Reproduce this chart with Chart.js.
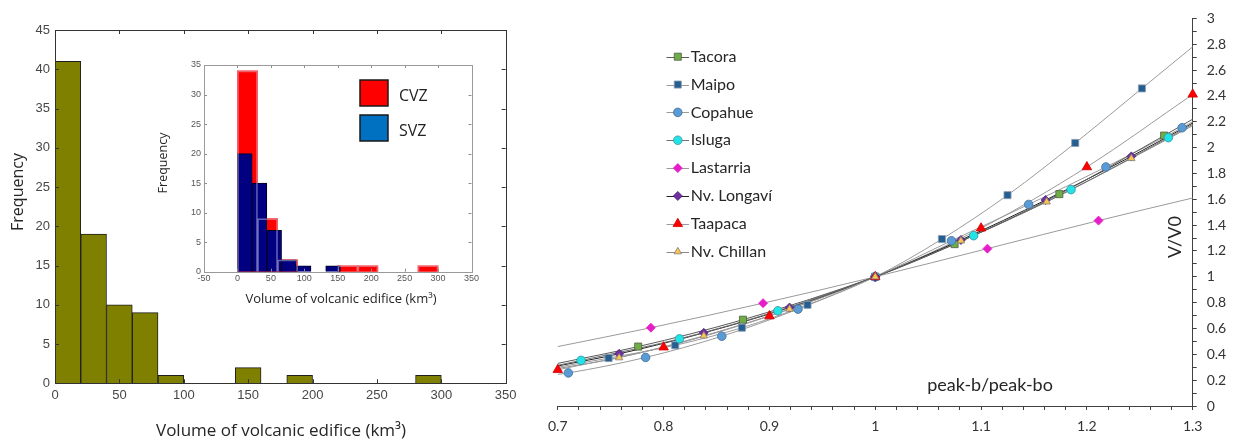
<!DOCTYPE html>
<html>
<head>
<meta charset="utf-8">
<script src="https://cdn.jsdelivr.net/npm/chart.js"></script>
<style>
  body { margin: 0; background: #fff; }
  #wrap { position: relative; width: 1234px; height: 445px; overflow: hidden; background: #fff; }
  canvas { position: absolute; }
</style>
</head>
<body>
<div id="wrap">
  <canvas id="histAll" width="530" height="445" style="left:0;top:0"></canvas>
  <canvas id="histZones" width="340" height="262" style="left:150px;top:50px"></canvas>
  <canvas id="ratioChart" width="694" height="445" style="left:540px;top:0"></canvas>
</div>
<script>
// ---- left histogram: all volcanoes, 20 km3 bins (bin centres) ----
const volBins = [10, 30, 50, 70, 90, 150, 190, 290];
const volCounts = [41, 19, 10, 9, 1, 2, 1, 1];

// ---- inset: CVZ (30 km3 bins) and SVZ (22 km3 bins) ----
const zoneNames = ['CVZ', 'SVZ'];
const cvzBins = [15, 45, 75, 165, 195, 285];
const cvzCounts = [34, 9, 2, 1, 1, 1];
const svzBins = [11, 33, 55, 77, 99, 143];
const svzCounts = [20, 15, 7, 2, 1, 1];

// ---- right chart: V/V0 against peak-b/peak-bo ----
const volcanoes = ['Tacora', 'Maipo', 'Copahue', 'Isluga', 'Lastarria', 'Nv. Longaví', 'Taapaca', 'Nv. Chillan'];
const tacoraX = [0.776, 0.875, 1, 1.075, 1.174, 1.273];
const tacoraY = [0.46, 0.668, 1, 1.253, 1.64, 2.093];
const maipoX = [0.748, 0.811, 0.874, 0.936, 1, 1.063, 1.125, 1.189, 1.252];
const maipoY = [0.371, 0.47, 0.606, 0.783, 1, 1.292, 1.632, 2.036, 2.458];
const copahueX = [0.71, 0.783, 0.855, 0.927, 1, 1.072, 1.145, 1.218, 1.29];
const copahueY = [0.256, 0.376, 0.54, 0.75, 1, 1.279, 1.56, 1.85, 2.154];
const islugaX = [0.722, 0.815, 0.908, 1, 1.093, 1.185, 1.277];
const islugaY = [0.353, 0.52, 0.737, 1, 1.318, 1.675, 2.077];
const lastarriaX = [0.788, 0.894, 1, 1.106, 1.211];
const lastarriaY = [0.606, 0.796, 1, 1.218, 1.435];
const longaviX = [0.758, 0.838, 0.919, 1, 1.081, 1.161, 1.242];
const longaviY = [0.404, 0.566, 0.762, 1, 1.285, 1.594, 1.932];
const taapacaX = [0.7, 0.8, 0.9, 1, 1.1, 1.2, 1.3];
const taapacaY = [0.28, 0.455, 0.696, 1, 1.376, 1.85, 2.412];
const chillanX = [0.758, 0.838, 0.919, 1, 1.081, 1.162, 1.242];
const chillanY = [0.374, 0.543, 0.75, 1, 1.279, 1.58, 1.916];
// where each trend line meets the left (0.7) and right (1.3) edges
const trendAtLeft = [0.33, 0.30, 0.245, 0.315, 0.46, 0.31, 0.28, 0.29];
const trendAtRight = [2.22, 2.78, 2.2, 2.18, 1.61, 2.19, 2.41, 2.17];

const seriesX = [tacoraX, maipoX, copahueX, islugaX, lastarriaX, longaviX, taapacaX, chillanX];
const seriesY = [tacoraY, maipoY, copahueY, islugaY, lastarriaY, longaviY, taapacaY, chillanY];

// marker styles
const pointStyles = ['rect', 'rect', 'circle', 'circle', 'rectRot', 'rectRot', 'triangle', 'triangle'];
const pointRadii = [5, 5, 4.3, 4.3, 4.5, 4.5, 5.5, 4.3];
const pointFills = ['#70ad47', '#255e91', '#5b9bd5', '#22e4e4', '#e61ec8', '#7030a0', '#ff0000', '#ffc54a'];
const pointEdges = ['#4d5d40', '#8c9cb0', '#41719c', '#3b8ea5', '#e61ec8', '#4d2070', '#d00000', '#7f7f7f'];
const lineColors = ['#5a5a5a', '#9a9a9a', '#9a9a9a', '#707070', '#9a9a9a', '#222222', '#9a9a9a', '#8a8a8a'];

const sansUI = "'Open Sans', sans-serif";
const calib = "Lato, sans-serif";

// box with inward ticks on all four sides (matlab style)
function insideTicks(xId, yId, len, tickColor, boxColor) {
  return {
    id: 'insideTicks',
    afterDatasetsDraw(chart) {
      const ctx = chart.ctx, a = chart.chartArea;
      const xs = chart.scales[xId], ys = chart.scales[yId];
      ctx.save();
      ctx.lineWidth = 1;
      ctx.strokeStyle = tickColor;
      ctx.beginPath();
      xs.ticks.forEach(t => {
        const p = Math.round(xs.getPixelForValue(t.value)) + 0.5;
        ctx.moveTo(p, a.bottom); ctx.lineTo(p, a.bottom - len);
        ctx.moveTo(p, a.top); ctx.lineTo(p, a.top + len);
      });
      ys.ticks.forEach(t => {
        const p = Math.round(ys.getPixelForValue(t.value)) + 0.5;
        ctx.moveTo(a.left, p); ctx.lineTo(a.left + len, p);
        ctx.moveTo(a.right, p); ctx.lineTo(a.right - len, p);
      });
      ctx.stroke();
      ctx.strokeStyle = boxColor;
      ctx.strokeRect(Math.round(a.left) + 0.5, Math.round(a.top) + 0.5,
        Math.round(a.right) - Math.round(a.left), Math.round(a.bottom) - Math.round(a.top));
      ctx.restore();
    }
  };
}

// free text (axis titles placed where the original has them)
function textLayer(items) {
  return {
    id: 'textLayer',
    afterDraw(chart) {
      const ctx = chart.ctx;
      items.forEach(t => {
        ctx.save();
        ctx.translate(t.x, t.y);
        ctx.rotate(t.rotate || 0);
        ctx.font = t.font;
        ctx.fillStyle = t.color || '#262626';
        ctx.textAlign = t.align || 'center';
        ctx.textBaseline = 'middle';
        ctx.fillText(t.text, 0, 0);
        ctx.restore();
      });
    }
  };
}

// Left: all volcanoes
new Chart(document.getElementById('histAll'), {
  type: 'bar',
  data: {
    datasets: [{
      data: volBins.map((b, i) => ({ x: b, y: volCounts[i] })),
      backgroundColor: '#808000',
      borderColor: '#1e1e1e',
      borderWidth: 1,
      barPercentage: 1,
      categoryPercentage: 1
    }]
  },
  options: {
    responsive: false,
    animation: false,
    devicePixelRatio: 1,
    layout: { padding: { top: 30, right: 24.3, left: 0, bottom: 0 } },
    plugins: { legend: { display: false }, tooltip: { enabled: false } },
    scales: {
      x: {
        type: 'linear', min: 0, max: 350, offset: false,
        grid: { display: false, drawTicks: false }, border: { display: false },
        ticks: { stepSize: 50, padding: 4, maxRotation: 0, color: '#474747', font: { family: 'Liberation Sans', size: 13 } },
        afterFit: s => { s.height = 61.7; }
      },
      y: {
        min: 0, max: 45,
        grid: { display: false, drawTicks: false }, border: { display: false },
        ticks: { stepSize: 5, padding: 5, color: '#474747', font: { family: 'Liberation Sans', size: 13 } },
        afterFit: s => { s.width = 55; }
      }
    }
  },
  plugins: [
    insideTicks('x', 'y', 4, '#333', '#333'),
    textLayer([
      { text: 'Frequency', x: 18, y: 192, rotate: -Math.PI / 2, font: '16px ' + sansUI },
      { text: 'Volume of volcanic edifice (km³)', x: 281, y: 431, font: '17px ' + sansUI }
    ])
  ]
});

// Inset: CVZ vs SVZ
const zoneLegend = {
  id: 'zoneLegend',
  afterDraw(chart) {
    const ctx = chart.ctx;
    const fills = ['#ff0000', '#0070c0'];
    zoneNames.forEach((name, i) => {
      const top = 30 + i * 35;
      ctx.save();
      ctx.fillStyle = fills[i];
      ctx.fillRect(210, top, 28, 26);
      ctx.strokeStyle = '#1a1a1a';
      ctx.lineWidth = 1.5;
      ctx.strokeRect(210, top, 28, 26);
      ctx.font = '16px ' + sansUI;
      ctx.fillStyle = '#222';
      ctx.textBaseline = 'middle';
      ctx.fillText(name, 249, top + 16);
      ctx.restore();
    });
  }
};

new Chart(document.getElementById('histZones'), {
  type: 'bar',
  data: {
    datasets: [
      {
        label: 'CVZ',
        xAxisID: 'xr',
        data: cvzBins.map((b, i) => ({ x: b, y: cvzCounts[i] })),
        backgroundColor: '#ff0000',
        borderWidth: 0,
        barPercentage: 1, categoryPercentage: 1, grouped: false,
        order: 2
      },
      {
        label: 'SVZ',
        xAxisID: 'x',
        data: svzBins.map((b, i) => ({ x: b, y: svzCounts[i] })),
        backgroundColor: '#000080',
        borderColor: '#000022',
        borderWidth: 1,
        barPercentage: 1, categoryPercentage: 1, grouped: false,
        order: 1
      },
      {
        label: 'CVZ edges',
        xAxisID: 'xr',
        data: cvzBins.map((b, i) => ({ x: b, y: cvzCounts[i] })),
        backgroundColor: 'rgba(0,0,0,0)',
        borderColor: 'rgba(215,215,245,0.45)',
        borderWidth: 1,
        barPercentage: 1, categoryPercentage: 1, grouped: false,
        order: 0
      }
    ]
  },
  options: {
    responsive: false,
    animation: false,
    devicePixelRatio: 1,
    layout: { padding: { top: 15, right: 18.5, left: 0, bottom: 0 } },
    plugins: { legend: { display: false }, tooltip: { enabled: false } },
    scales: {
      x: {
        type: 'linear', min: -50, max: 350, offset: false,
        grid: { display: false, drawTicks: false }, border: { display: false },
        ticks: { stepSize: 50, padding: 1, maxRotation: 0, color: '#555', font: { family: 'Liberation Sans', size: 9 } },
        afterFit: s => { s.height = 40.3; }
      },
      xr: {
        type: 'linear', min: -50, max: 350, offset: false, display: false,
        ticks: { stepSize: 50 }
      },
      y: {
        min: 0, max: 35,
        grid: { display: false, drawTicks: false }, border: { display: false },
        ticks: { stepSize: 5, padding: 3, color: '#555', font: { family: 'Liberation Sans', size: 9 } },
        afterFit: s => { s.width = 54; }
      }
    }
  },
  plugins: [
    insideTicks('x', 'y', 3, '#8c8c8c', '#9a9a9a'),
    zoneLegend,
    textLayer([
      { text: 'Frequency', x: 13, y: 113, rotate: -Math.PI / 2, font: '12.5px ' + sansUI },
      { text: 'Volume of volcanic edifice (km³)', x: 191, y: 249, font: '13px ' + sansUI }
    ])
  ]
});

// Right: volume ratio curves
const xMin = 0.7, xMax = 1.3;
function trendPoints(xs, ys, yLeft, yRight) {
  const pts = xs.map((x, i) => ({ x, y: ys[i] }));
  if (xs[0] > xMin) pts.unshift({ x: xMin, y: yLeft });
  if (xs[xs.length - 1] < xMax) pts.push({ x: xMax, y: yRight });
  return pts;
}

const ratioDatasets = [];
volcanoes.forEach((name, i) => {
  ratioDatasets.push({
    label: name + ' trend',
    trend: true,
    data: trendPoints(seriesX[i], seriesY[i], trendAtLeft[i], trendAtRight[i]),
    showLine: true,
    borderColor: lineColors[i],
    borderWidth: 1,
    pointRadius: 0,
    cubicInterpolationMode: 'monotone',
    clip: false,
    order: 50
  });
});
volcanoes.forEach((name, i) => {
  ratioDatasets.push({
    label: name,
    data: seriesX[i].map((x, k) => ({ x, y: seriesY[i][k] })),
    showLine: false,
    pointStyle: pointStyles[i],
    pointRadius: pointRadii[i],
    pointBackgroundColor: pointFills[i],
    pointBorderColor: pointEdges[i],
    pointBorderWidth: 0.8,
    lineColor: lineColors[i],
    clip: false,
    order: 20 - i
  });
});

const markerLegend = {
  id: 'markerLegend',
  afterDraw(chart) {
    const ctx = chart.ctx;
    const items = chart.data.datasets.filter(d => !d.trend);
    items.forEach((d, i) => {
      const y = 56.7 + i * 27.85;
      ctx.save();
      ctx.strokeStyle = d.lineColor;
      ctx.lineWidth = 1;
      ctx.beginPath();
      ctx.moveTo(126.5, Math.round(y) + 0.5);
      ctx.lineTo(149, Math.round(y) + 0.5);
      ctx.stroke();
      ctx.fillStyle = d.pointBackgroundColor;
      ctx.strokeStyle = d.pointBorderColor;
      ctx.lineWidth = d.pointBorderWidth;
      Chart.helpers.drawPoint(ctx, { pointStyle: d.pointStyle, rotation: 0, radius: d.pointRadius, borderWidth: d.pointBorderWidth }, 137.8, y);
      ctx.font = '16px ' + calib;
      ctx.fillStyle = '#262626';
      ctx.textBaseline = 'middle';
      ctx.fillText(d.label, 150.7, y);
      ctx.restore();
    });
  }
};

new Chart(document.getElementById('ratioChart'), {
  type: 'scatter',
  data: { datasets: ratioDatasets },
  options: {
    responsive: false,
    animation: false,
    devicePixelRatio: 1,
    layout: { padding: { top: 15, left: 16.7, right: 0, bottom: 0 } },
    plugins: { legend: { display: false }, tooltip: { enabled: false } },
    scales: {
      x: {
        type: 'linear', min: xMin, max: xMax,
        grid: { display: true, drawOnChartArea: false, drawTicks: true, tickLength: 4, color: '#404040', tickColor: '#404040' },
        border: { display: true, color: '#404040', width: 1 },
        ticks: {
          stepSize: 0.02, autoSkip: false, maxRotation: 0, padding: 8,
          color: '#333', font: { family: 'Lato', size: 14 },
          callback: v => (Math.round(v * 100) % 10 === 0 ? String(+v.toFixed(1)) : '')
        },
        afterFit: s => { s.height = 39; }
      },
      y: {
        position: 'right', min: 0, max: 3,
        grid: { display: true, drawOnChartArea: false, drawTicks: true, tickLength: 4, color: '#404040', tickColor: '#404040' },
        border: { display: true, color: '#404040', width: 1 },
        ticks: {
          stepSize: 0.1, autoSkip: false, padding: 10,
          color: '#333', font: { family: 'Lato', size: 14 },
          callback: v => (Math.round(v * 10) % 2 === 0 ? String(+v.toFixed(1)) : '')
        },
        afterFit: s => { s.width = 41.3; }
      }
    }
  },
  plugins: [
    markerLegend,
    textLayer([
      { text: 'peak-b/peak-bo', x: 450, y: 385, font: '18px ' + calib },
      { text: 'V/V0', x: 635, y: 237, rotate: -Math.PI / 2, font: '18px ' + calib }
    ])
  ]
});
</script>
</body>
</html>
